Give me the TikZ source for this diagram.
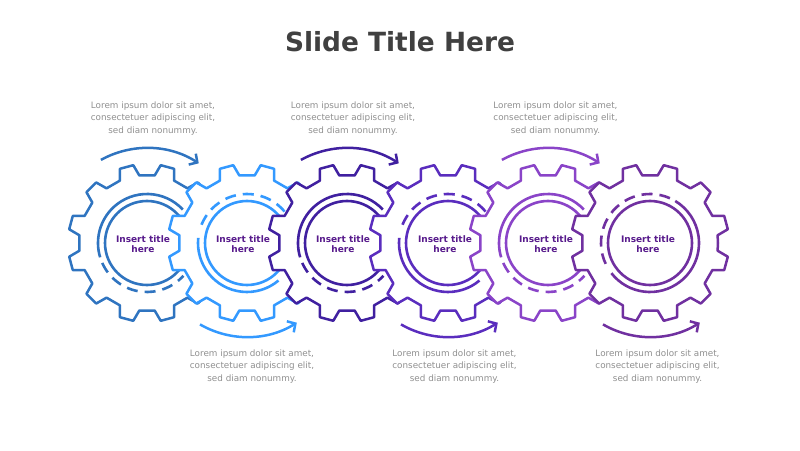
\documentclass[tikz,border=0pt]{standalone}
\usepackage{fontspec}
\setmainfont{DejaVu Sans}
\usetikzlibrary{calc,arrows.meta}

\definecolor{gearA}{HTML}{2F74C0}
\definecolor{gearB}{HTML}{3399FF}
\definecolor{gearC}{HTML}{4020A0}
\definecolor{gearD}{HTML}{5A2DBE}
\definecolor{gearE}{HTML}{8A44C8}
\definecolor{gearF}{HTML}{7030A0}
\definecolor{titlepurple}{HTML}{581B8C}
\definecolor{titlegray}{HTML}{404040}
\definecolor{bodygray}{HTML}{8F8F8F}

% gear outline (white filled) with its inner circle
\newcommand{\gearwheel}[2]{%
  \filldraw[#2, fill=white, line width=2.5pt, line join=round]
    ($(#1)+(0:68)$) \foreach \ang in {15,45,...,345} {
      -- ($(#1)+(\ang-8.5:68)$) -- ($(#1)+(\ang-5:79)$)
      -- ($(#1)+(\ang+5:79)$) -- ($(#1)+(\ang+8.5:68)$)
    } -- cycle;
  \draw[#2, line width=2.6pt] (#1) circle (42);
}

\begin{document}
\begin{tikzpicture}[x=1pt, y=1pt, >={Straight Barb[length=6pt,width=13pt]},
    ring/.style={#1, line width=2.6pt},
    ringdash/.style={dash pattern=on 11pt off 7pt},
    flow/.style={#1, line width=2.5pt, ->},
    gtitle/.style={text=titlepurple, font=\fontsize{9}{10.5}\selectfont\bfseries, align=center, inner sep=0pt},
    desc/.style={text=bodygray, font=\fontsize{8.8}{12.7}\selectfont, align=center, inner sep=0pt}]
    \useasboundingbox (0,0) rectangle (800,450);

    \coordinate (g1) at (147, 207);
    \coordinate (g2) at (247, 207);
    \coordinate (g3) at (347, 207);
    \coordinate (g4) at (448, 207);
    \coordinate (g5) at (548, 207);
    \coordinate (g6) at (650, 207);

    \gearwheel{g1}{gearA}
    \draw[ring=gearA] ($(g1)+(43:49)$) arc[start angle=43, end angle=197, radius=49];
    \draw[ring=gearA, ringdash] ($(g1)+(204:49)$) arc[start angle=204, end angle=318, radius=49];

    \gearwheel{g2}{gearB}
    \draw[ring=gearB] ($(g2)+(174:49)$) arc[start angle=174, end angle=310, radius=49];
    \draw[ring=gearB, ringdash] ($(g2)+(40:49)$) arc[start angle=40, end angle=166, radius=49];

    \gearwheel{g3}{gearC}
    \draw[ring=gearC] ($(g3)+(43:49)$) arc[start angle=43, end angle=197, radius=49];
    \draw[ring=gearC, ringdash] ($(g3)+(204:49)$) arc[start angle=204, end angle=318, radius=49];

    \gearwheel{g4}{gearD}
    \draw[ring=gearD] ($(g4)+(174:49)$) arc[start angle=174, end angle=310, radius=49];
    \draw[ring=gearD, ringdash] ($(g4)+(40:49)$) arc[start angle=40, end angle=166, radius=49];

    \gearwheel{g5}{gearE}
    \draw[ring=gearE] ($(g5)+(43:49)$) arc[start angle=43, end angle=197, radius=49];
    \draw[ring=gearE, ringdash] ($(g5)+(204:49)$) arc[start angle=204, end angle=318, radius=49];

    \gearwheel{g6}{gearF}
    \draw[ring=gearF] ($(g6)+(-142:49)$) arc[start angle=-142, end angle=59, radius=49];
    \draw[ring=gearF, ringdash] ($(g6)+(66:49)$) arc[start angle=66, end angle=206, radius=49];

    % turning arrows
    \draw[flow=gearA] ($(g1)+(119:95)$) arc[start angle=119, end angle=57, radius=95];
    \draw[flow=gearB] ($(g2)+(240:94)$) arc[start angle=240, end angle=302, radius=94];
    \draw[flow=gearC] ($(g3)+(119:95)$) arc[start angle=119, end angle=57, radius=95];
    \draw[flow=gearD] ($(g4)+(240:94)$) arc[start angle=240, end angle=302, radius=94];
    \draw[flow=gearE] ($(g5)+(119:95)$) arc[start angle=119, end angle=57, radius=95];
    \draw[flow=gearF] ($(g6)+(240:94)$) arc[start angle=240, end angle=302, radius=94];

    \node[text=titlegray, font=\fontsize{26.4}{30}\selectfont\bfseries, anchor=base] (title) at (400, 398.3) {Slide Title Here};

    \node[gtitle] (t1) at (143, 206) {Insert title\\here};
    \node[gtitle] (t2) at (243, 206) {Insert title\\here};
    \node[gtitle] (t3) at (343, 206) {Insert title\\here};
    \node[gtitle] (t4) at (445, 206) {Insert title\\here};
    \node[gtitle] (t5) at (546, 206) {Insert title\\here};
    \node[gtitle] (t6) at (648, 206) {Insert title\\here};

    \node[desc] (d1) at (153, 331.5) {Lorem ipsum dolor sit amet,\\consectetuer adipiscing elit,\\sed diam nonummy.};
    \node[desc] (d2) at (252, 83.5) {Lorem ipsum dolor sit amet,\\consectetuer adipiscing elit,\\sed diam nonummy.};
    \node[desc] (d3) at (353, 331.5) {Lorem ipsum dolor sit amet,\\consectetuer adipiscing elit,\\sed diam nonummy.};
    \node[desc] (d4) at (454.5, 83.5) {Lorem ipsum dolor sit amet,\\consectetuer adipiscing elit,\\sed diam nonummy.};
    \node[desc] (d5) at (555.5, 331.5) {Lorem ipsum dolor sit amet,\\consectetuer adipiscing elit,\\sed diam nonummy.};
    \node[desc] (d6) at (657.5, 83.5) {Lorem ipsum dolor sit amet,\\consectetuer adipiscing elit,\\sed diam nonummy.};
\end{tikzpicture}
\end{document}
